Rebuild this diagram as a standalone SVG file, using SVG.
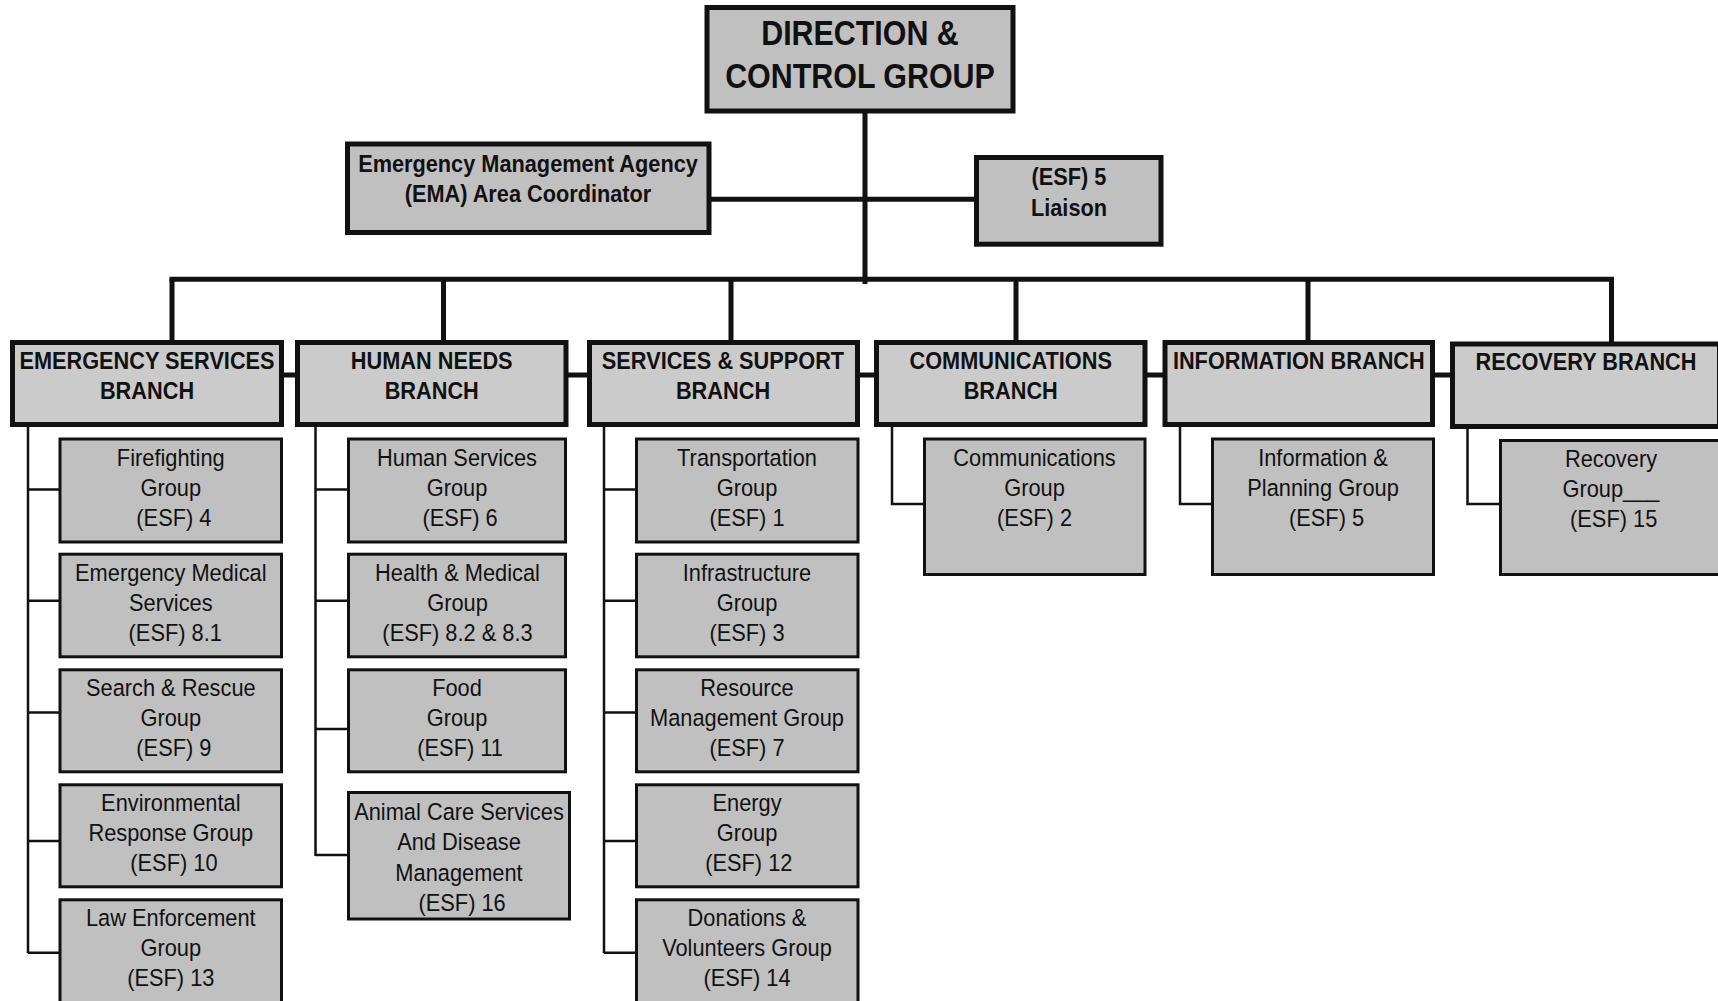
<svg xmlns="http://www.w3.org/2000/svg" width="1718" height="1001" viewBox="0 0 1718 1001">
  <style>
    .top { fill: #c0c0c0; stroke: #111; stroke-width: 5; }
    .branch { fill: #cbcbcb; stroke: #111; stroke-width: 5; }
    .group { fill: #c0c0c0; stroke: #111; stroke-width: 3; }
    .thick { fill: none; stroke: #111; stroke-width: 5; }
    .thin { fill: none; stroke: #111; stroke-width: 2.5; }
    text { font-family: "Liberation Sans", Arial, sans-serif; fill: #111; text-anchor: middle; }
    .hd { font-size: 36px; font-weight: bold; }
    .bd { font-size: 23.5px; font-weight: bold; }
    .rg { font-size: 24.5px; }
  </style>

  <!-- connectors -->
  <g id="connectors">
    <!-- trunk, side links and main bus -->
    <path class="thick" d="M865 112 V284"/>
    <path class="thick" d="M711 199.3 H975"/>
    <path class="thick" d="M169.5 279.3 H1614"/>
    <path class="thick" d="M172 279 V341 M443.5 279 V341 M731 279 V341 M1016 279 V341 M1308 279 V341 M1611.5 279 V343"/>
    <!-- chain between branch boxes -->
    <path class="thick" d="M283 375 H1452"/>
    <!-- emergency services branch -->
    <path class="thin" d="M28 426 V953.3 M28 489.5 H59 M28 600.7 H59 M28 712.5 H59 M28 841 H59 M28 952.7 H59"/>
    <!-- human needs branch -->
    <path class="thin" d="M315.5 426 V856 M315.5 489.5 H348 M315.5 600.7 H348 M315.5 729 H348 M315.5 855 H348"/>
    <!-- services & support branch -->
    <path class="thin" d="M604 426 V953.3 M604 489.5 H636 M604 600.7 H636 M604 712.5 H636 M604 841 H636 M604 952.7 H636"/>
    <!-- communications, information, recovery -->
    <path class="thin" d="M892 426 V504 H924"/>
    <path class="thin" d="M1180 426 V504 H1212"/>
    <path class="thin" d="M1467.5 428 V504 H1500"/>
  </g>

  <!-- top level -->
  <g id="direction">
    <rect class="top" x="707" y="7.5" width="306" height="103.5"/>
    <text class="hd" transform="translate(860 0) scale(0.845 1)"><tspan x="0" y="45">DIRECTION &amp;</tspan><tspan x="0" y="88">CONTROL GROUP</tspan></text>
  </g>
  <g id="ema">
    <rect class="top" x="347.5" y="144" width="361.5" height="88.5"/>
    <text class="bd" transform="translate(528 0) scale(0.925 1)"><tspan x="0" y="172">Emergency Management Agency</tspan><tspan x="0" y="202">(EMA) Area Coordinator</tspan></text>
  </g>
  <g id="liaison">
    <rect class="top" x="976.5" y="157.5" width="184.5" height="86.7"/>
    <text class="bd" transform="translate(1069 0) scale(0.925 1)"><tspan x="0" y="185">(ESF) 5</tspan><tspan x="0" y="216">Liaison</tspan></text>
  </g>

  <!-- branches -->
  <g id="branch-emergency">
    <rect class="branch" x="12.5" y="342.5" width="269" height="82"/>
    <text class="bd" transform="translate(147 0) scale(0.925 1)"><tspan x="0" y="369">EMERGENCY SERVICES</tspan><tspan x="0" y="399">BRANCH</tspan></text>
  </g>
  <g id="branch-human">
    <rect class="branch" x="297.5" y="342.5" width="268.5" height="82"/>
    <text class="bd" transform="translate(431.7 0) scale(0.925 1)"><tspan x="0" y="369">HUMAN NEEDS</tspan><tspan x="0" y="399">BRANCH</tspan></text>
  </g>
  <g id="branch-services">
    <rect class="branch" x="589.5" y="342.5" width="268" height="82"/>
    <text class="bd" transform="translate(723 0) scale(0.925 1)"><tspan x="0" y="369">SERVICES &amp; SUPPORT</tspan><tspan x="0" y="399">BRANCH</tspan></text>
  </g>
  <g id="branch-comms">
    <rect class="branch" x="876.5" y="342.5" width="268.5" height="82"/>
    <text class="bd" transform="translate(1010.7 0) scale(0.925 1)"><tspan x="0" y="369">COMMUNICATIONS</tspan><tspan x="0" y="399">BRANCH</tspan></text>
  </g>
  <g id="branch-info">
    <rect class="branch" x="1165" y="342.5" width="267.5" height="82"/>
    <text class="bd" transform="translate(1298.8 0) scale(0.925 1)"><tspan x="0" y="369">INFORMATION BRANCH</tspan></text>
  </g>
  <g id="branch-recovery">
    <rect class="branch" x="1452.5" y="344" width="267" height="82.5"/>
    <text class="bd" transform="translate(1586 0) scale(0.925 1)"><tspan x="0" y="370.5">RECOVERY BRANCH</tspan></text>
  </g>

  <!-- emergency services groups -->
  <g id="esf4">
    <rect class="group" x="60" y="439" width="221.5" height="103"/>
    <text class="rg" transform="translate(170.8 0) scale(0.89 1)"><tspan x="0" y="466">Firefighting</tspan><tspan x="0" y="496">Group</tspan><tspan x="3.5" y="526">(ESF) 4</tspan></text>
  </g>
  <g id="esf8-1">
    <rect class="group" x="60" y="554.2" width="221.5" height="102.6"/>
    <text class="rg" transform="translate(170.8 0) scale(0.89 1)"><tspan x="0" y="581">Emergency Medical</tspan><tspan x="0" y="611">Services</tspan><tspan x="5" y="641">(ESF) 8.1</tspan></text>
  </g>
  <g id="esf9">
    <rect class="group" x="60" y="669.8" width="221.5" height="102"/>
    <text class="rg" transform="translate(170.8 0) scale(0.89 1)"><tspan x="0" y="696.5">Search &amp; Rescue</tspan><tspan x="0" y="726.5">Group</tspan><tspan x="3.5" y="756.5">(ESF) 9</tspan></text>
  </g>
  <g id="esf10">
    <rect class="group" x="60" y="784.8" width="221.5" height="102"/>
    <text class="rg" transform="translate(170.8 0) scale(0.89 1)"><tspan x="0" y="811.5">Environmental</tspan><tspan x="0" y="841.5">Response Group</tspan><tspan x="3.5" y="871.5">(ESF) 10</tspan></text>
  </g>
  <g id="esf13">
    <rect class="group" x="60" y="899.8" width="221.5" height="115"/>
    <text class="rg" transform="translate(170.8 0) scale(0.89 1)"><tspan x="0" y="926.5">Law Enforcement</tspan><tspan x="0" y="956.5">Group</tspan><tspan x="0" y="986.5">(ESF) 13</tspan></text>
  </g>

  <!-- human needs groups -->
  <g id="esf6">
    <rect class="group" x="348.5" y="439" width="217" height="103"/>
    <text class="rg" transform="translate(457 0) scale(0.89 1)"><tspan x="0" y="466">Human Services</tspan><tspan x="0" y="496">Group</tspan><tspan x="3.5" y="526">(ESF) 6</tspan></text>
  </g>
  <g id="esf8-2">
    <rect class="group" x="348.5" y="554.2" width="217" height="102.6"/>
    <text class="rg" transform="translate(457.5 0) scale(0.89 1)"><tspan x="0" y="581">Health &amp; Medical</tspan><tspan x="0" y="611">Group</tspan><tspan x="0" y="641">(ESF) 8.2 &amp; 8.3</tspan></text>
  </g>
  <g id="esf11">
    <rect class="group" x="348.5" y="669.8" width="217" height="102"/>
    <text class="rg" transform="translate(457 0) scale(0.89 1)"><tspan x="0" y="696.5">Food</tspan><tspan x="0" y="726.5">Group</tspan><tspan x="3.5" y="756.5">(ESF) 11</tspan></text>
  </g>
  <g id="esf16">
    <rect class="group" x="348.5" y="792.5" width="221" height="126.5"/>
    <text class="rg" transform="translate(459 0) scale(0.89 1)"><tspan x="0" y="820">Animal Care Services</tspan><tspan x="0" y="850.5">And Disease</tspan><tspan x="0" y="881">Management</tspan><tspan x="3.5" y="911.5">(ESF) 16</tspan></text>
  </g>

  <!-- services & support groups -->
  <g id="esf1">
    <rect class="group" x="636.5" y="439" width="221.5" height="103"/>
    <text class="rg" transform="translate(747 0) scale(0.89 1)"><tspan x="0" y="466">Transportation</tspan><tspan x="0" y="496">Group</tspan><tspan x="0" y="526">(ESF) 1</tspan></text>
  </g>
  <g id="esf3">
    <rect class="group" x="636.5" y="554.2" width="221.5" height="102.6"/>
    <text class="rg" transform="translate(747 0) scale(0.89 1)"><tspan x="0" y="581">Infrastructure</tspan><tspan x="0" y="611">Group</tspan><tspan x="0" y="641">(ESF) 3</tspan></text>
  </g>
  <g id="esf7">
    <rect class="group" x="636.5" y="669.8" width="221.5" height="102"/>
    <text class="rg" transform="translate(747 0) scale(0.89 1)"><tspan x="0" y="696.5">Resource</tspan><tspan x="0" y="726.5">Management Group</tspan><tspan x="0" y="756.5">(ESF) 7</tspan></text>
  </g>
  <g id="esf12">
    <rect class="group" x="636.5" y="784.8" width="221.5" height="102"/>
    <text class="rg" transform="translate(747 0) scale(0.89 1)"><tspan x="0" y="811.5">Energy</tspan><tspan x="0" y="841.5">Group</tspan><tspan x="2" y="871.5">(ESF) 12</tspan></text>
  </g>
  <g id="esf14">
    <rect class="group" x="636.5" y="899.8" width="221.5" height="115"/>
    <text class="rg" transform="translate(747 0) scale(0.89 1)"><tspan x="0" y="926.5">Donations &amp;</tspan><tspan x="0" y="956.5">Volunteers Group</tspan><tspan x="0" y="986.5">(ESF) 14</tspan></text>
  </g>

  <!-- single-group branches -->
  <g id="esf2">
    <rect class="group" x="924.5" y="439" width="220.5" height="135.5"/>
    <text class="rg" transform="translate(1034.5 0) scale(0.89 1)"><tspan x="0" y="466">Communications</tspan><tspan x="0" y="496">Group</tspan><tspan x="0" y="526">(ESF) 2</tspan></text>
  </g>
  <g id="esf5">
    <rect class="group" x="1212.5" y="439" width="221" height="135.5"/>
    <text class="rg" transform="translate(1323 0) scale(0.89 1)"><tspan x="0" y="466">Information &amp;</tspan><tspan x="0" y="496">Planning Group</tspan><tspan x="4" y="526">(ESF) 5</tspan></text>
  </g>
  <g id="esf15">
    <rect class="group" x="1500.5" y="440.5" width="221" height="134"/>
    <text class="rg" transform="translate(1611 0) scale(0.89 1)"><tspan x="0" y="467.5">Recovery</tspan><tspan x="0" y="497.5">Group___</tspan><tspan x="3" y="527.5">(ESF) 15</tspan></text>
  </g>
</svg>
